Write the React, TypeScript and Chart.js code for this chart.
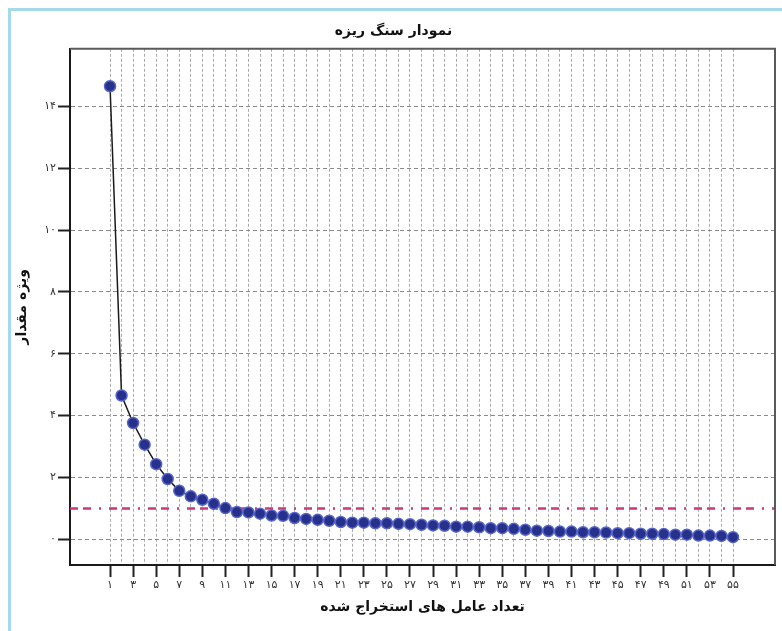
import { useEffect, useRef } from "react";
import { Chart, registerables } from "chart.js";
import type { Plugin, Scale } from "chart.js";

Chart.register(...registerables);

// Scree plot: eigenvalue of each extracted factor
const factorNumbers = [
  1, 2, 3, 4, 5, 6, 7, 8, 9, 10, 11, 12, 13, 14, 15, 16, 17, 18, 19, 20,
  21, 22, 23, 24, 25, 26, 27, 28, 29, 30, 31, 32, 33, 34, 35, 36, 37, 38, 39, 40,
  41, 42, 43, 44, 45, 46, 47, 48, 49, 50, 51, 52, 53, 54, 55,
];
const eigenValues = [
  14.65, 4.65, 3.76, 3.06, 2.43, 1.95, 1.57, 1.39, 1.28, 1.15, 1.01, 0.88, 0.87, 0.83, 0.77,
  0.76, 0.69, 0.66, 0.63, 0.6, 0.56, 0.54, 0.54, 0.52, 0.52, 0.5, 0.49, 0.47, 0.45, 0.44,
  0.41, 0.41, 0.39, 0.36, 0.36, 0.34, 0.31, 0.28, 0.27, 0.25, 0.25, 0.23, 0.23, 0.22, 0.2,
  0.2, 0.18, 0.18, 0.17, 0.15, 0.15, 0.12, 0.12, 0.11, 0.07,
];
const kaiserThreshold = 1;

const xLabeledTicks = [
  1, 3, 5, 7, 9, 11, 13, 15, 17, 19, 21, 23, 25, 27, 29, 31, 33, 35, 37, 39, 41, 43, 45,
  47, 49, 51, 53, 55,
];
const xTickLabels = [
  "۱", "۳", "۵", "۷", "۹", "۱۱", "۱۳", "۱۵", "۱۷", "۱۹", "۲۱", "۲۳", "۲۵", "۲۷", "۲۹",
  "۳۱", "۳۳", "۳۵", "۳۷", "۳۹", "۴۱", "۴۳", "۴۵", "۴۷", "۴۹", "۵۱", "۵۳", "۵۵",
];
const yTickValues = [0, 2, 4, 6, 8, 10, 12, 14];
const yTickLabels = ["۰", "۲", "۴", "۶", "۸", "۱۰", "۱۲", "۱۴"];

const chartTitle = "نمودار سنگ ریزه";
const xAxisTitle = "تعداد عامل های استخراج شده";
const yAxisTitle = "ویژه مقدار";

const X_MIN = -2.47;
const X_MAX = 58.64;
const Y_MIN = -0.83;
const Y_MAX = 15.86;

const FONT = "'DejaVu Sans', sans-serif";

/** Draws the grey top and right edges of the plot frame. */
const framePlugin: Plugin<"line"> = {
  id: "plotFrame",
  afterDraw(chart) {
    const { ctx, chartArea } = chart;
    ctx.save();
    ctx.strokeStyle = "#5a5a5a";
    ctx.lineWidth = 2;
    ctx.beginPath();
    ctx.moveTo(chartArea.left, chartArea.top);
    ctx.lineTo(chartArea.right, chartArea.top);
    ctx.lineTo(chartArea.right, chartArea.bottom);
    ctx.stroke();
    ctx.restore();
  },
};

/** Renders the scree plot with its eigenvalue-one reference line. */
function ScreeChart(): JSX.Element {
  const canvasRef = useRef<HTMLCanvasElement | null>(null);

  useEffect(() => {
    const canvas = canvasRef.current;
    if (!canvas) {
      return;
    }

    const chart = new Chart(canvas, {
      type: "line",
      data: {
        datasets: [
          {
            label: "eigen",
            data: factorNumbers.map((n, i) => ({ x: n, y: eigenValues[i] })),
            borderColor: "#1a1a1a",
            borderWidth: 1.5,
            pointRadius: 5.5,
            pointBorderWidth: 1.5,
            pointBackgroundColor: "#27308a",
            pointBorderColor: "#5565c8",
            tension: 0,
            order: 0,
          },
          {
            label: "kaiser",
            data: [
              { x: X_MIN, y: kaiserThreshold },
              { x: X_MAX, y: kaiserThreshold },
            ],
            borderColor: "#c8387a",
            borderWidth: 2.5,
            borderDash: [8, 5, 8, 8, 2, 8],
            pointRadius: 0,
            order: 1,
          },
        ],
      },
      options: {
        animation: false,
        responsive: false,
        layout: { padding: { top: 20, left: 12, right: 7, bottom: 0 } },
        plugins: {
          legend: { display: false },
          tooltip: { enabled: false },
          title: {
            display: true,
            text: chartTitle,
            color: "#111",
            font: { family: FONT, size: 14, weight: "bold" },
            padding: { top: 3, bottom: 9 },
          },
        },
        scales: {
          x: {
            type: "linear",
            min: X_MIN,
            max: X_MAX,
            afterBuildTicks: (scale: Scale) => {
              scale.ticks = factorNumbers.map((value) => ({ value }));
            },
            afterFit: (scale: Scale) => {
              scale.height = 66;
              scale.paddingLeft = 0;
              scale.paddingRight = 0;
            },
            ticks: {
              autoSkip: false,
              maxRotation: 0,
              padding: 2,
              color: "#333",
              font: { family: FONT, size: 11 },
              callback: (value: string | number) => {
                const idx = xLabeledTicks.indexOf(Number(value));
                return idx >= 0 ? xTickLabels[idx] : "";
              },
            },
            grid: {
              color: "#aaaaaa",
              lineWidth: 1,
              tickLength: 12,
              tickWidth: 2,
              tickColor: (ctx: any) =>
                xLabeledTicks.includes(ctx.tick?.value) ? "#222" : "rgba(0,0,0,0)",
            },
            border: { display: true, color: "#1a1a1a", width: 2, dash: [3, 2] },
            title: {
              display: true,
              text: xAxisTitle,
              color: "#111",
              font: { family: FONT, size: 14, weight: "bold" },
              padding: { top: 0, bottom: 15 },
            },
          },
          y: {
            type: "linear",
            min: Y_MIN,
            max: Y_MAX,
            afterBuildTicks: (scale: Scale) => {
              scale.ticks = yTickValues.map((value) => ({ value }));
            },
            afterFit: (scale: Scale) => {
              scale.width = 58;
              scale.paddingTop = 0;
              scale.paddingBottom = 0;
            },
            ticks: {
              padding: 2,
              color: "#333",
              font: { family: FONT, size: 11 },
              callback: (value: string | number) => {
                const idx = yTickValues.indexOf(Number(value));
                return idx >= 0 ? yTickLabels[idx] : "";
              },
            },
            grid: {
              color: "#8a8a8a",
              lineWidth: 1,
              tickLength: 12,
              tickWidth: 2,
              tickColor: "#222",
            },
            border: { display: true, color: "#1a1a1a", width: 2, dash: [4, 3] },
            title: {
              display: true,
              text: yAxisTitle,
              color: "#111",
              font: { family: FONT, size: 14, weight: "bold" },
              padding: { top: 2, bottom: 0 },
            },
          },
        },
      },
      plugins: [framePlugin],
    });

    return () => {
      chart.destroy();
    };
  }, []);

  return <canvas ref={canvasRef} width={782} height={631} style={{ display: "block" }} />;
}

export default function App(): JSX.Element {
  useEffect(() => {
    document.body.style.margin = "0";
  }, []);

  return (
    <div style={{ position: "relative", width: 782, height: 631, background: "#fff", overflow: "hidden" }}>
      <div
        style={{
          position: "absolute",
          left: 8,
          top: 8,
          right: 0,
          bottom: 0,
          borderTop: "3px solid #a3d9ea",
          borderLeft: "3px solid #a3d9ea",
        }}
      />
      <div style={{ position: "absolute", left: 0, top: 0 }}>
        <ScreeChart />
      </div>
    </div>
  );
}
